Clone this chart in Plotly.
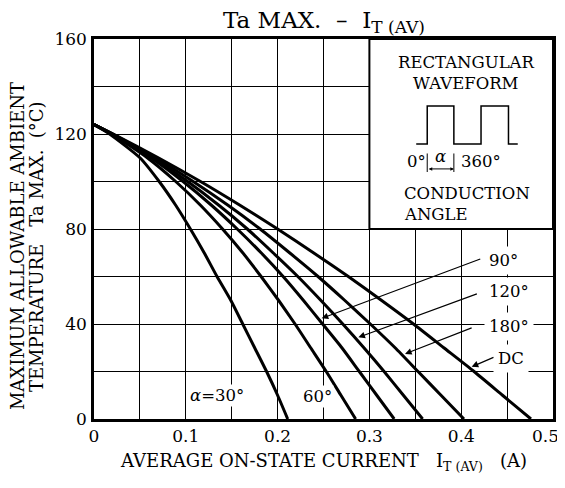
import plotly.graph_objects as go

# ambient temperature levels (°C) at which each curve was read
ta_levels = [124, 120, 110, 100, 90, 80, 70, 60, 50, 40, 30, 20, 10, 0]

# average on-state current (A) at each level, per conduction angle
i_dc = [0, 0.021, 0.070, 0.116, 0.159, 0.200, 0.239, 0.277, 0.313, 0.348, 0.381, 0.414, 0.445, 0.476]
i_180 = [0, 0.020, 0.067, 0.108, 0.146, 0.181, 0.213, 0.244, 0.273, 0.301, 0.328, 0.353, 0.378, 0.403]
i_120 = [0, 0.020, 0.064, 0.102, 0.136, 0.167, 0.195, 0.222, 0.247, 0.271, 0.294, 0.316, 0.337, 0.358]
i_90 = [0, 0.020, 0.062, 0.097, 0.128, 0.156, 0.182, 0.206, 0.228, 0.249, 0.270, 0.289, 0.308, 0.327]
i_60 = [0, 0.019, 0.058, 0.089, 0.116, 0.140, 0.162, 0.182, 0.201, 0.219, 0.236, 0.253, 0.269, 0.285]
i_30 = [0, 0.017, 0.050, 0.071, 0.089, 0.105, 0.120, 0.134, 0.149, 0.162, 0.175, 0.188, 0.200, 0.211]

curves = {"DC": i_dc, "180°": i_180, "120°": i_120, "90°": i_90, "60°": i_60, "30°": i_30}

x_ticks = [0, 0.1, 0.2, 0.3, 0.4, 0.5]
x_tick_text = ["0", "0.1", "0.2", "0.3", "0.4", ""]  # 0.5 is placed separately, nudged inside

FONT = "DejaVu Serif"

fig = go.Figure()
for name, xs in curves.items():
    fig.add_trace(go.Scatter(
        x=xs, y=ta_levels, mode="lines", name=name,
        line=dict(color="black", width=3, shape="spline", smoothing=0.6),
        showlegend=False, hoverinfo="skip",
    ))

# inset box with the rectangular waveform sketch
fig.add_shape(type="rect", x0=0.3, x1=0.5, y0=80, y1=160, xref="x", yref="y",
              fillcolor="white", line=dict(color="black", width=2), layer="above")
wave = "M 0.351 115.8 L 0.363 115.8 L 0.363 131.8 L 0.392 131.8 L 0.392 115.8 " \
       "L 0.4216 115.8 L 0.4216 131.8 L 0.4515 131.8 L 0.4515 115.8 L 0.4616 115.8"
fig.add_shape(type="path", path=wave, xref="x", yref="y",
              line=dict(color="black", width=1.5), layer="above")
for xv in (0.363, 0.392):
    fig.add_shape(type="line", x0=xv, x1=xv, y0=104.0, y1=111.8, xref="x", yref="y",
                  line=dict(color="black", width=1), layer="above")

notes = [
    dict(text="RECTANGULAR", x=0.4057, y=150.3, xanchor="center"),
    dict(text="WAVEFORM", x=0.4057, y=141.2, xanchor="center"),
    dict(text="0°", x=0.364, y=108.6, xanchor="right"),
    dict(text="<i>α</i>", x=0.3775, y=110.4, xanchor="center"),
    dict(text="360°", x=0.398, y=108.6, xanchor="left"),
    dict(text="CONDUCTION", x=0.336, y=94.9, xanchor="left"),
    dict(text="ANGLE", x=0.336, y=86.3, xanchor="left"),
    dict(text="<i>α</i>=30°", x=0.134, y=10.0, xanchor="center", bgcolor="white"),
    dict(text="60°", x=0.2433, y=9.6, xanchor="center", bgcolor="white"),
]
for n in notes:
    fig.add_annotation(xref="x", yref="y", showarrow=False, yanchor="middle",
                       font=dict(family=FONT, size=16.5, color="black"), **n)

fig.add_annotation(x=0.392, y=105.3, ax=0.363, ay=105.3, xref="x", yref="y",
                   axref="x", ayref="y", text="", showarrow=True, arrowside="end+start",
                   arrowhead=2, arrowsize=0.7, arrowwidth=1, arrowcolor="black")

# curve labels with leader arrows
labels = [
    ("90°", 0.4458, 66.9, 0.248, 42.4, 0.4224, 67.6),
    ("120°", 0.452, 53.6, 0.288, 34.4, 0.4187, 52.9),
    ("180°", 0.452, 38.9, 0.3388, 27.4, 0.413, 38.6),
    ("DC", 0.454, 25.5, 0.4114, 22.0, 0.4368, 26.2),
]
for text, lx, ly, hx, hy, tx, ty in labels:
    fig.add_annotation(x=lx, y=ly, xref="x", yref="y", text=text, showarrow=False,
                       bgcolor="white", borderpad=4,
                       font=dict(family=FONT, size=16.5, color="black"))
    fig.add_annotation(x=hx, y=hy, ax=tx, ay=ty, xref="x", yref="y", axref="x", ayref="y",
                       text="", showarrow=True, arrowhead=2, arrowsize=1.1,
                       arrowwidth=1.2, arrowcolor="black")

# last x tick label, pulled left so it is not clipped by the page edge
fig.add_annotation(text="0.5", x=0.5, y=0, xref="x", yref="paper", showarrow=False,
                   xanchor="center", yanchor="middle", xshift=-8, yshift=-17,
                   font=dict(family=FONT, size=17, color="black"))

# titles
sub = "<sub><span style='font-size:17px'>T (AV)</span></sub>"
fig.add_annotation(text="Ta MAX.  –  I" + sub, x=0.5, y=1.045, xref="paper", yref="paper",
                   showarrow=False, yanchor="middle", font=dict(family=FONT, size=23, color="black"))
fig.add_annotation(text="AVERAGE ON-STATE CURRENT   I<sub>T (AV)</sub>   (A)",
                   x=0.501, y=-0.114, xref="paper", yref="paper", showarrow=False, yanchor="middle",
                   font=dict(family=FONT, size=18, color="black"))
for text, xp, yp in [("MAXIMUM ALLOWABLE AMBIENT", -0.1678, 0.455),
                     ("TEMPERATURE   Ta MAX.  (°C)", -0.1264, 0.455)]:
    fig.add_annotation(text=text, x=xp, y=yp, xref="paper", yref="paper", showarrow=False,
                       textangle=-90, xanchor="center", yanchor="middle",
                       font=dict(family=FONT, size=18, color="black"))

fig.update_xaxes(range=[0, 0.5], tickvals=x_ticks, ticktext=x_tick_text, showgrid=True,
                 gridcolor="black", gridwidth=1.2,
                 minor=dict(dtick=0.05, showgrid=True, gridcolor="black", gridwidth=1.2),
                 showline=True, linecolor="black", linewidth=2.5, mirror=True, zeroline=False,
                 automargin=False, ticks="", tickfont=dict(family=FONT, size=17, color="black"))
fig.update_yaxes(range=[0, 160], dtick=40, showgrid=True, gridcolor="black", gridwidth=1.2,
                 minor=dict(dtick=20, showgrid=True, gridcolor="black", gridwidth=1.2),
                 showline=True, linecolor="black", linewidth=2.5, mirror=True, zeroline=False,
                 automargin=False, ticks="", ticklabelstandoff=1,
                 tickfont=dict(family=FONT, size=17, color="black"))
# the page body adds an 8px margin around the figure, so size and margins allow for it
fig.update_layout(width=557, height=472, margin=dict(l=86, r=12, t=31, b=61),
                  plot_bgcolor="white", paper_bgcolor="white")

fig.write_html("out.html")
